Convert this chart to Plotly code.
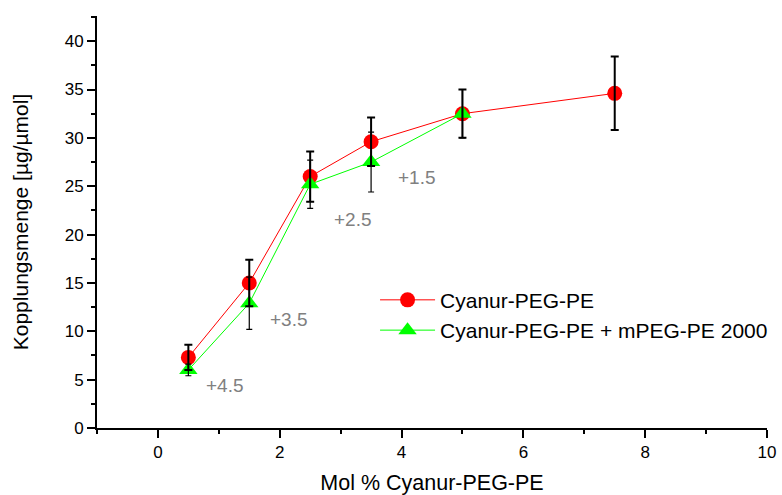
import plotly.graph_objects as go

# Mol % Cyanur-PEG-PE
x_cyanur = [0.5, 1.5, 2.5, 3.5, 5.0, 7.5]
y_cyanur = [7.3, 15.0, 26.0, 29.6, 32.5, 34.6]
err_cyanur = [1.3, 2.4, 2.6, 2.5, 2.5, 3.8]

x_mix = [0.5, 1.5, 2.5, 3.5, 5.0]
y_mix = [6.0, 12.9, 25.2, 27.5, 32.5]
err_mix = [0.6, 2.7, 2.5, 3.1, 2.5]

# added mPEG-PE 2000 per point
note_text = ["+4.5", "+3.5", "+2.5", "+1.5"]
note_x = [1.1, 2.15, 3.2, 4.25]
note_y = [4.4, 11.2, 21.6, 25.9]

FONT = "Liberation Sans, Arial, sans-serif"

fig = go.Figure()

fig.add_trace(go.Scatter(
    x=x_cyanur, y=y_cyanur, mode="lines+markers", name="Cyanur-PEG-PE",
    line=dict(color="#ff0000", width=1),
    marker=dict(symbol="circle", size=15, color="#ff0000"),
))
fig.add_trace(go.Scatter(
    x=x_mix, y=y_mix, mode="lines+markers", name="Cyanur-PEG-PE + mPEG-PE 2000",
    line=dict(color="#00ff00", width=1),
    marker=dict(symbol="triangle-up", size=16, color="#00ff00"),
))

# error bars drawn above the markers
fig.add_trace(go.Scatter(
    x=x_cyanur, y=y_cyanur, mode="markers", showlegend=False, hoverinfo="skip",
    marker=dict(size=1, color="rgba(0,0,0,0)"),
    error_y=dict(type="data", array=err_cyanur, color="black", thickness=2, width=4),
))
fig.add_trace(go.Scatter(
    x=x_mix, y=y_mix, mode="markers", showlegend=False, hoverinfo="skip",
    marker=dict(size=1, color="rgba(0,0,0,0)"),
    error_y=dict(type="data", array=err_mix, color="black", thickness=1.2, width=3),
))

for t, nx, ny in zip(note_text, note_x, note_y):
    fig.add_annotation(x=nx, y=ny, text=t, showarrow=False,
                       font=dict(family=FONT, size=19, color="#808080"))

axis_common = dict(
    showline=True, linecolor="black", linewidth=2, showgrid=False, zeroline=False,
    ticks="outside", ticklen=8, tickwidth=2, tickcolor="black",
    tickfont=dict(family=FONT, size=17, color="black"),
    mirror=False, automargin=False,
)

fig.update_xaxes(
    range=[-1, 10], tickmode="array", tickvals=[0, 2, 4, 6, 8, 10],
    minor=dict(tickvals=[-1, 1, 3, 5, 7, 9], ticks="outside", ticklen=4,
               tickwidth=2, tickcolor="black"),
    title=dict(text="Mol % Cyanur-PEG-PE", font=dict(family=FONT, size=21.5, color="black"),
               standoff=18),
    **axis_common,
)
fig.update_yaxes(
    range=[0, 42.6], tickmode="array", tickvals=[0, 5, 10, 15, 20, 25, 30, 35, 40],
    minor=dict(tickvals=[2.5, 7.5, 12.5, 17.5, 22.5, 27.5, 32.5, 37.5, 42.5],
               ticks="outside", ticklen=4, tickwidth=2, tickcolor="black"),
    title=dict(text="Kopplungsmenge [µg/µmol]", font=dict(family=FONT, size=21, color="black"),
               standoff=30),
    **axis_common,
)

fig.update_layout(
    width=782, height=495,
    margin=dict(l=97, r=15, t=16, b=67, autoexpand=False),
    plot_bgcolor="white", paper_bgcolor="white",
    font=dict(family=FONT, color="black"),
    legend=dict(x=0.415, y=0.36, xanchor="left", yanchor="top",
                bgcolor="rgba(0,0,0,0)", font=dict(family=FONT, size=21, color="black"),
                itemwidth=55, tracegroupgap=0),
)

fig.write_html("out.html")
